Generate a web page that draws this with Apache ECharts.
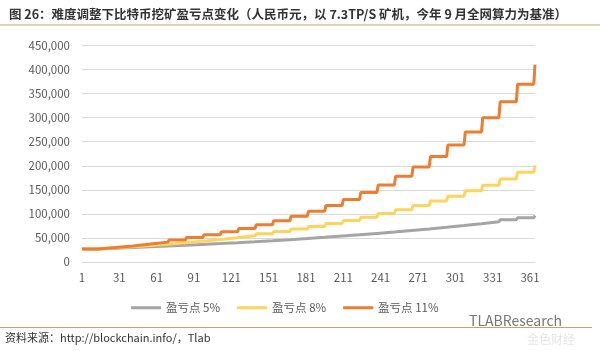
<!DOCTYPE html>
<html>
<head>
<meta charset="utf-8">
<script src="https://cdn.jsdelivr.net/npm/echarts@6/dist/echarts.min.js"></script>
<style>
  html, body { margin: 0; padding: 0; background: #fff; }
  #chart { width: 600px; height: 351px; }
</style>
</head>
<body>
<div id="chart"></div>
<script>
// day of each difficulty adjustment (every 14 days), last one is day 365
const stepStarts = [1, 15, 29, 43, 57, 71, 85, 99, 113, 127, 141, 155, 169, 183, 197, 211, 225, 239, 253, 267, 281, 295, 309, 323, 337, 351, 365]
const lastDay = 365

// break-even price (CNY) at each step
const be5 = [27200, 28600, 30000, 31500, 33100, 34700, 36500, 38300, 40200, 42200, 44300, 46500, 48800, 51300, 53900, 56500, 59400, 62300, 65500, 68700, 72200, 75800, 79600, 83500, 87700, 92100, 96700]
const be8 = [27200, 29400, 31700, 34300, 37000, 40000, 43200, 46600, 50300, 54400, 58700, 63400, 68500, 74000, 79900, 86300, 93200, 100600, 108700, 117400, 126800, 136900, 147900, 159700, 172500, 186300, 201200]
const be11 = [27200, 30200, 33500, 37200, 41300, 45800, 50900, 56500, 62700, 69600, 77200, 85700, 95200, 105600, 117200, 130100, 144500, 160300, 178000, 197600, 219300, 243400, 270200, 299900, 332900, 369500, 410200]

const seriesNames = ['盈亏点 5%', '盈亏点 8%', '盈亏点 11%']
const seriesColors = ['#A5A5A5', '#FFD45E', '#ED7D31']

let days = []
for (let d = 1; d <= lastDay; d++) days.push(String(d))

// each step is flat from its first day to its last day
function toPoints (levels) {
  let pts = []
  for (let k = 0; k < levels.length; k++) {
    let a = stepStarts[k] - 1
    let b = Math.min(stepStarts[k] + 13, lastDay) - 1
    pts.push([a, levels[k]])
    if (b > a) pts.push([b, levels[k]])
  }
  return pts
}

const chart = echarts.init(document.getElementById('chart'))
const font = '"Noto Sans CJK SC", "Noto Sans", sans-serif'

let option = {
  animation: false,
  textStyle: { fontFamily: font },
  title: {
    text: '图 26：难度调整下比特币挖矿盈亏点变化（人民币元，以 7.3TP/S 矿机，今年 9 月全网算力为基准）',
    left: 4,
    top: 3,
    textStyle: { fontSize: 12.5, fontWeight: 'bold', color: '#333', fontFamily: font }
  },
  grid: { left: 82, right: 65, top: 45.5, bottom: 89 },
  legend: {
    left: 126,
    top: 297,
    itemWidth: 30,
    itemHeight: 3,
    itemGap: 17,
    icon: 'rect',
    textStyle: { fontSize: 11.5, color: '#595959', fontFamily: font },
    data: seriesNames
  },
  xAxis: {
    type: 'category',
    boundaryGap: false,
    data: days,
    axisLine: { lineStyle: { color: '#d9d9d9', width: 1 } },
    axisTick: { show: false },
    axisLabel: { interval: 29, color: '#595959', fontSize: 11.5, margin: 10 },
    splitLine: { show: false }
  },
  yAxis: {
    type: 'value',
    min: 0,
    max: 450000,
    interval: 50000,
    axisLine: { show: false },
    axisTick: { show: false },
    axisLabel: {
      color: '#595959',
      fontSize: 11.5,
      margin: 12,
      formatter: v => v.toLocaleString('en-US')
    },
    splitLine: { lineStyle: { color: '#d9d9d9', width: 1 } }
  },
  series: [
    { name: seriesNames[0], type: 'line', data: toPoints(be5), showSymbol: false, lineStyle: { width: 3, color: seriesColors[0] }, itemStyle: { color: seriesColors[0] } },
    { name: seriesNames[1], type: 'line', data: toPoints(be8), showSymbol: false, lineStyle: { width: 3, color: seriesColors[1] }, itemStyle: { color: seriesColors[1] } },
    { name: seriesNames[2], type: 'line', data: toPoints(be11), showSymbol: false, lineStyle: { width: 3, color: seriesColors[2] }, itemStyle: { color: seriesColors[2] } }
  ],
  graphic: [
    { type: 'line', shape: { x1: 0, y1: 25, x2: 600, y2: 25 }, style: { stroke: '#c9a26a', lineWidth: 1 } },
    { type: 'line', shape: { x1: 0, y1: 327.5, x2: 592, y2: 327.5 }, style: { stroke: '#c9a26a', lineWidth: 1 } },
    {
      type: 'text', left: 5, top: 332,
      style: { text: '资料来源：http://blockchain.info/，Tlab', fontSize: 11, fill: '#333', fontFamily: font }
    },
    {
      type: 'text', left: 469, top: 314,
      style: { text: 'TLABResearch', fontSize: 14, fill: '#777', fontFamily: font }
    },
    {
      type: 'text', left: 527, top: 333,
      style: { text: '金色财经', fontSize: 12, fill: '#e6e6e6', fontFamily: font }
    }
  ]
}
chart.setOption(option)
</script>
</body>
</html>
